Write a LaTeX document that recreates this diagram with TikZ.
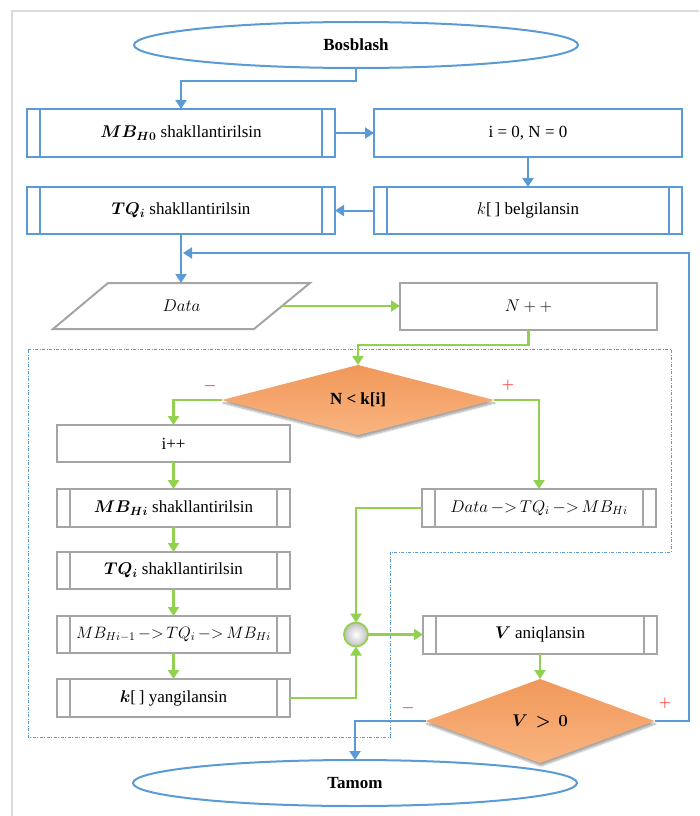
\RequirePackage{fix-cm}
\documentclass[tikz,border=0pt]{standalone}
\usepackage{fontspec}
\usepackage{bm}
\setmainfont{Liberation Serif}
\usetikzlibrary{arrows.meta,shapes.geometric,shadows.blur}
\definecolor{ofblue}{RGB}{91,155,213}
\definecolor{ofgray}{RGB}{165,165,165}
\definecolor{ofgreen}{RGB}{146,208,80}
\definecolor{ortop}{RGB}{241,152,90}
\definecolor{orbot}{RGB}{249,180,128}
\definecolor{framegray}{RGB}{218,218,218}
\begin{document}
\begin{tikzpicture}[x=1pt,y=-1pt,
  font=\fontsize{17}{20}\selectfont,
  every node/.style={inner sep=0pt, outer sep=0pt},
  tip/.style={-{Triangle[width=11pt,length=9pt]}},
  bline/.style={ofblue, line width=2pt},
  gline/.style={ofgreen, line width=2.2pt},
  bbox/.style={draw=ofblue, line width=2pt, rectangle, minimum width=308pt, minimum height=48pt},
  gbox/.style={draw=ofgray, line width=2pt, rectangle, minimum width=233pt, minimum height=37pt},
  subr/.style={path picture={
      \draw[#1, line width=2pt]
        ([xshift=13pt]path picture bounding box.north west) -- ([xshift=13pt]path picture bounding box.south west)
        ([xshift=-13pt]path picture bounding box.north east) -- ([xshift=-13pt]path picture bounding box.south east);}},
  term/.style={draw=ofblue, line width=2pt, ellipse, minimum width=444pt, minimum height=46pt},
  dec/.style={diamond, top color=ortop, bottom color=orbot, draw=none,
      blur shadow={shadow xshift=1pt, shadow yshift=-3pt, shadow blur steps=6, shadow opacity=35}},
  sign/.style={text=red, font=\fontsize{17}{17}\selectfont}
]
\useasboundingbox (0,0) rectangle (699,816);
% outer frame
\draw[framegray, line width=1.5pt] (12,816) -- (12,11) -- (699,11);

% dashed region
\draw[ofblue, line width=0.7pt, dash pattern=on 3pt off 1.5pt on 1pt off 1.5pt]
  (28,349) -- (671,349) -- (671,552) -- (390,552) -- (390,737) -- (28,737) -- cycle;

% nodes
\node[term] (start) at (356,45) {\textbf{Bosblash}};
\node[bbox, subr=ofblue] (mb0) at (181,133) {$\bm{MB}_{\bm{H0}}$ shakllantirilsin};
\node[bbox] (init) at (528,133) {i = 0, N = 0};
\node[bbox, subr=ofblue, minimum height=47pt] (kb) at (528,210.5) {$k$[\,] belgilansin};
\node[bbox, subr=ofblue, minimum height=47pt] (tq0) at (181,210.5) {$\bm{TQ}_{\bm{i}}$ shakllantirilsin};

\node[minimum width=201pt, minimum height=46pt] (data) at (181.5,306) {$Data$};
\draw[ofgray, line width=2pt]
  ([xshift=27pt]data.north west) -- ([xshift=28pt]data.north east)
  -- ([xshift=-28pt]data.south east) -- ([xshift=-28pt]data.south west) -- cycle;
\node[gbox, minimum width=257pt, minimum height=47pt] (nplus) at (528.5,306) {$N++$};

\node[dec, minimum width=272pt, minimum height=66pt] (d1) at (358,400) {\textbf{N < k[i]}};
\node[sign] (m1) at (210,386) {$-$};
\node[sign] (p1) at (508,385) {$+$};

\node[gbox] (ipp) at (173.5,443.5) {i++};
\node[gbox, subr=ofgray, minimum height=38pt] (mbhi) at (173.5,508) {$\bm{MB}_{\bm{Hi}}$ shakllantirilsin};
\node[gbox, subr=ofgray] (tqi) at (173.5,570.5) {$\bm{TQ}_{\bm{i}}$ shakllantirilsin};
\node[gbox, subr=ofgray] (mbm) at (173.5,634.5) {\fontsize{16.5}{18}\selectfont$MB_{Hi-1}\,{-}{>}\,TQ_i\,{-}{>}\,MB_{Hi}$};
\node[gbox, subr=ofgray, minimum height=38pt] (ky) at (173.5,698) {$\bm{k}$[\,] yangilansin};

\node[gbox, subr=ofgray, minimum width=234pt, minimum height=38pt] (dtq) at (539,508) {$Data\,{-}{>}\,TQ_i\,{-}{>}\,MB_{Hi}$};
\node[circle, draw=ofgreen, line width=1.8pt, minimum size=24pt, inner color=white, outer color=black!25] (conn) at (356,634.5) {};
\node[gbox, subr=ofgray, minimum width=234pt, minimum height=38pt] (vb) at (540,634.5) {$\bm{V}$ aniqlansin};
\node[dec, minimum width=229pt, minimum height=84pt] (d2) at (540,721) {$\bm{V\,>\,0}$};
\node[sign] (m2) at (408,708) {$-$};
\node[sign] (p2) at (665,703) {$+$};
\node[term] (end) at (355,783) {\textbf{Tamom}};

\coordinate (loopin) at (183,253);

% blue connectors
\draw[bline, tip] (start.south) -- (356,81) -- (181,81) -- (mb0.north);
\draw[bline, tip] (mb0.east) -- (init.west);
\draw[bline, tip] (init.south) -- (kb.north);
\draw[bline, tip] (kb.west) -- (tq0.east);
\draw[bline, tip] (tq0.south) -- (181,283);
\draw[bline, tip] (d2.west) -- (355,721) -- (end.north);
\draw[bline, tip] (d2.east) -- (689,721) -- (689,253) -- (loopin);

% green connectors
\draw[gline, tip] (data.east) -- (nplus.west);
\draw[gline, tip] (nplus.south) -- (528.5,345) -- (358,345) -- (d1.north);
\draw[gline, tip] (d1.west) -| (ipp.north);
\draw[gline, tip] (d1.east) -| (dtq.north);
\draw[gline, tip] (ipp.south) -- (mbhi.north);
\draw[gline, tip] (mbhi.south) -- (tqi.north);
\draw[gline, tip] (tqi.south) -- (mbm.north);
\draw[gline, tip] (mbm.south) -- (ky.north);
\draw[gline, tip] (dtq.west) -| (conn.north);
\draw[gline, tip] (ky.east) -| (conn.south);
\draw[gline, tip] (conn.east) -- (vb.west);
\draw[gline, tip] (vb.south) -- (d2.north);
\end{tikzpicture}
\end{document}
